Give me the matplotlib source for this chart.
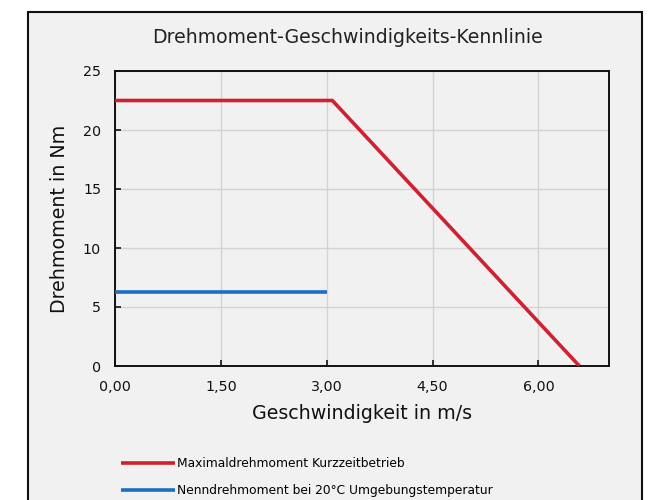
import matplotlib
matplotlib.use("Agg")
import matplotlib.pyplot as plt
from matplotlib.patches import Rectangle

# Data
max_speed = [0.0, 3.08, 6.58]
max_torque = [22.5, 22.5, 0.0]
nom_speed = [0.0, 3.0]
nom_torque = [6.3, 6.3]
xticks = [0.0, 1.5, 3.0, 4.5, 6.0]
xticklabels = ["0,00", "1,50", "3,00", "4,50", "6,00"]
yticks = [0, 5, 10, 15, 20, 25]

plt.rcParams['font.family'] = ['DejaVu Sans']

fig = plt.figure(figsize=(6.52, 5.0), dpi=100, facecolor='white')
bg = '#f0f1f0'
frame = Rectangle((28/652, -0.05), (642-28)/652, 1.05 - 12/500,
                  transform=fig.transFigure, facecolor=bg,
                  edgecolor='#111111', linewidth=1.5, zorder=-10)
fig.patches.append(frame)

ax = fig.add_axes([115/652, 1-366/500, (609-115)/652, (366-71)/500])
ax.set_facecolor(bg)
ax.plot(max_speed, max_torque, color='#cf2130', linewidth=2.6,
        label='Maximaldrehmoment Kurzzeitbetrieb', solid_capstyle='butt', zorder=3)
ax.plot(nom_speed, nom_torque, color='#1b6ec2', linewidth=2.6,
        label='Nenndrehmoment bei 20°C Umgebungstemperatur', solid_capstyle='butt', zorder=3)

ax.set_xlim(0, 7.0)
ax.set_ylim(0, 25)
ax.set_xticks(xticks)
ax.set_xticklabels(xticklabels)
ax.set_yticks(yticks)
ax.grid(True, color='#d3d3d3', linewidth=1.0)
ax.set_axisbelow(True)
for s in ax.spines.values():
    s.set_linewidth(1.4)
    s.set_color('#111111')
ax.tick_params(axis='x', direction='in', length=4, width=1.2, pad=10, labelsize=10.3, colors='#111111')
ax.tick_params(axis='y', direction='in', length=4, width=1.2, pad=10, labelsize=10.3, colors='#111111')

ax.set_title('Drehmoment-Geschwindigkeits-Kennlinie', fontsize=13.6, color='#222222',
             pad=20.5, x=0.47)
ax.set_xlabel('Geschwindigkeit in m/s', fontsize=13.7, color='#111111', labelpad=7)
ax.set_ylabel('Drehmoment in Nm', fontsize=13.7, color='#111111', labelpad=10)

handles, labels = ax.get_legend_handles_labels()
leg = fig.legend(handles, labels, loc='upper left', bbox_to_anchor=(121/652, 1-457/500),
                 frameon=False, fontsize=8.8, handlelength=4.4, handletextpad=0.15,
                 labelspacing=1.15, borderaxespad=0, borderpad=0)

fig.savefig('out.png', dpi=100, facecolor='white')
